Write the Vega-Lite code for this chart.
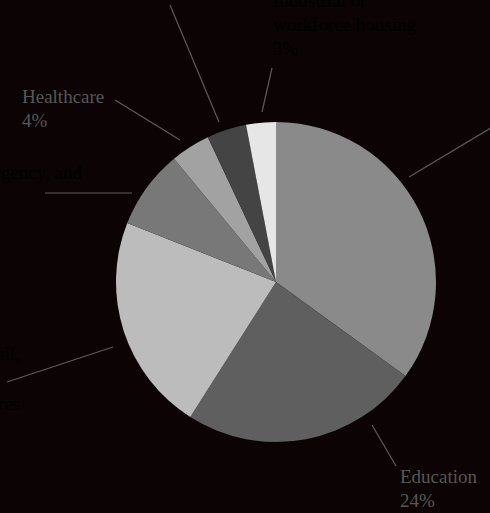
{
  "$schema": "https://vega.github.io/schema/vega-lite/v6.json",
  "width": 490,
  "height": 513,
  "autosize": {"type": "none"},
  "padding": 0,
  "background": "#0c0304",
  "config": {"view": {"stroke": null}},
  "datasets": {
    "shares": [
      {"cat": "Office", "value": 35, "order": 1},
      {"cat": "Education", "value": 24, "order": 2},
      {"cat": "Retail", "value": 22, "order": 3},
      {"cat": "Government", "value": 8, "order": 4},
      {"cat": "Healthcare", "value": 4, "order": 5},
      {"cat": "Hospitality", "value": 4, "order": 6},
      {"cat": "Industrial or workforce housing", "value": 3, "order": 7}
    ],
    "notes": [
      {"cat": "Office", "x1": 133, "y1": -105, "x2": 250, "y2": -175, "tx": 262, "ty": -180, "label": "Office\n35%", "side": "left"},
      {"cat": "Education", "x1": 96, "y1": 143, "x2": 120, "y2": 184, "tx": 124, "ty": 201, "label": "Education\n24%", "side": "left"},
      {"cat": "Retail", "x1": -163, "y1": 65, "x2": -269, "y2": 100, "tx": -256, "ty": 78, "label": "Retail, mall,\nstores", "side": "right"},
      {"cat": "Government", "x1": -231, "y1": -89, "x2": -144, "y2": -89, "tx": -194, "ty": -103, "label": "Government, emergency, and", "side": "right"},
      {"cat": "Healthcare", "x1": -96, "y1": -142, "x2": -161, "y2": -182, "tx": -254, "ty": -179, "label": "Healthcare\n4%", "side": "left"},
      {"cat": "Hospitality", "x1": -57, "y1": -160, "x2": -106, "y2": -277, "tx": -140, "ty": -340, "label": "Hospitality\n4%", "side": "left"},
      {"cat": "Industrial or workforce housing", "x1": -14, "y1": -170, "x2": -4, "y2": -214, "tx": -3, "ty": -275, "label": "Industrial or\nworkforce housing\n3%", "side": "left"}
    ]
  },
  "layer": [
    {
      "data": {"name": "shares"},
      "mark": {
        "type": "arc",
        "outerRadius": 160,
        "x": {"expr": "scale('x', 0)"},
        "y": {"expr": "scale('y', 0)"}
      },
      "encoding": {
        "theta": {"field": "value", "type": "quantitative", "stack": true},
        "order": {"field": "order", "type": "quantitative"},
        "color": {
          "field": "cat",
          "type": "nominal",
          "legend": null,
          "scale": {
            "domain": ["Office", "Education", "Retail", "Government", "Healthcare", "Hospitality", "Industrial or workforce housing"],
            "range": ["#8a8a8a", "#5f5f5f", "#bcbcbc", "#787878", "#a2a2a2", "#444444", "#e6e6e6"]
          }
        }
      }
    },
    {
      "data": {"name": "notes"},
      "mark": {"type": "rule", "stroke": "#5c5c5c", "strokeWidth": 1.2},
      "encoding": {
        "x": {"field": "x1", "type": "quantitative", "axis": null, "scale": {"domain": [-276, 214], "nice": false, "zero": false}},
        "y": {"field": "y1", "type": "quantitative", "axis": null, "scale": {"domain": [-282, 231], "nice": false, "zero": false, "reverse": true}},
        "x2": {"field": "x2"},
        "y2": {"field": "y2"}
      }
    },
    {
      "data": {"name": "notes"},
      "transform": [{"filter": "datum.side === 'left'"}],
      "mark": {"type": "text", "align": "left", "baseline": "alphabetic", "font": "Liberation Serif", "fontSize": 19, "lineHeight": 24, "lineBreak": "\n"},
      "encoding": {
        "x": {"field": "tx", "type": "quantitative"},
        "y": {"field": "ty", "type": "quantitative"},
        "text": {"field": "label"},
        "color": {"condition": {"test": "datum.cat === 'Healthcare' || datum.cat === 'Education'", "value": "#575757"}, "value": "#000000"}
      }
    },
    {
      "data": {"name": "notes"},
      "transform": [{"filter": "datum.side === 'right'"}],
      "mark": {"type": "text", "align": "right", "baseline": "alphabetic", "font": "Liberation Serif", "fontSize": 19, "lineHeight": 50, "lineBreak": "\n", "color": "#000000"},
      "encoding": {
        "x": {"field": "tx", "type": "quantitative"},
        "y": {"field": "ty", "type": "quantitative"},
        "text": {"field": "label"}
      }
    }
  ],
  "resolve": {"scale": {"color": "independent"}}
}
